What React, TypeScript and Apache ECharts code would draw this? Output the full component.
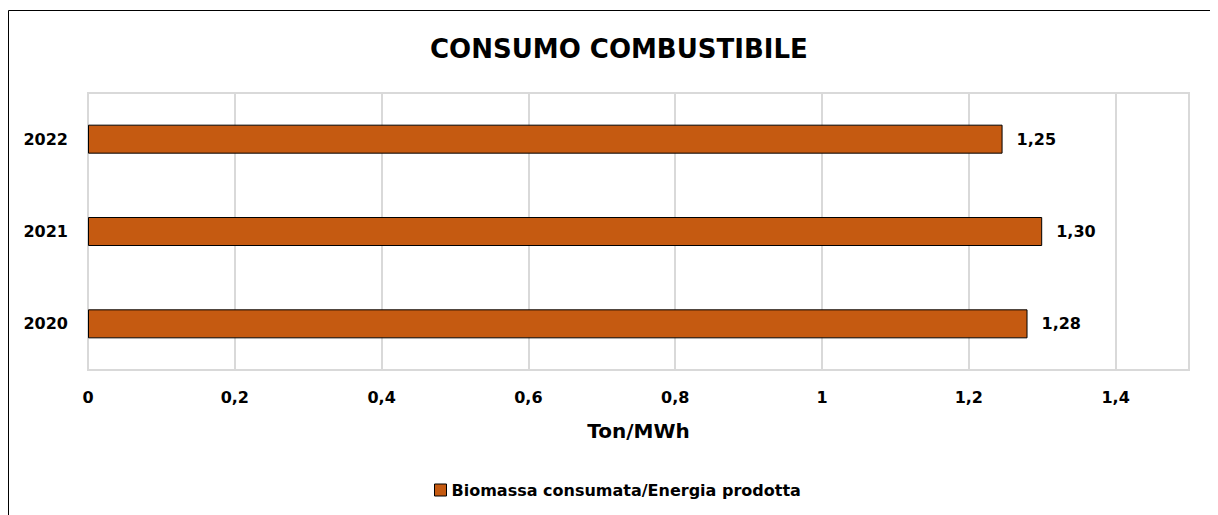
import React, { useEffect, useRef } from "react";
import * as echarts from "echarts";

const categories = ["2020", "2021", "2022"];
const values = [1.28, 1.3, 1.246];
const seriesName = "Biomassa consumata/Energia prodotta";
const titleText = "CONSUMO COMBUSTIBILE";
const axisName = "Ton/MWh";

const FONT = "'DejaVu Sans', sans-serif";
const fmt = (v: number) => String(v).replace(".", ",");

export default function App() {
  const ref = useRef<HTMLDivElement>(null);
  useEffect(() => {
    document.body.style.overflow = "hidden";
    const chart = echarts.init(ref.current!, null, { renderer: "svg" });
    chart.setOption({
      animation: false,
      textStyle: { fontFamily: FONT },
      title: {
        text: titleText,
        left: 417,
        top: 23,
        textStyle: { fontFamily: FONT, fontSize: 26, fontWeight: "bold", color: "#000" },
      },
      graphic: [
        {
          type: "rect",
          shape: { x: 0.5, y: 2.5, width: 1400, height: 700 },
          style: { fill: "none", stroke: "#000", lineWidth: 1 },
          silent: true,
        },
      ],
      legend: {
        bottom: 12,
        left: 421,
        itemWidth: 12,
        itemHeight: 12,
        icon: "rect",
        itemGap: 10,
        textStyle: { fontFamily: FONT, fontSize: 16, fontWeight: "bold", color: "#000" },
        data: [{ name: seriesName, itemStyle: { borderColor: "#000", borderWidth: 1 } }],
      },
      grid: {
        left: 80,
        right: 29,
        top: 85,
        bottom: 145,
        show: true,
        borderColor: "#d9d9d9",
        borderWidth: 2,
        containLabel: false,
      },
      xAxis: {
        type: "value",
        min: 0,
        max: 1.5,
        interval: 0.2,
        name: axisName,
        nameLocation: "middle",
        nameGap: 51,
        nameTextStyle: { fontFamily: FONT, fontSize: 20, fontWeight: "bold", color: "#000" },
        axisLine: { show: false },
        axisTick: { show: false },
        axisLabel: {
          margin: 19,
          fontFamily: FONT,
          fontSize: 16,
          fontWeight: "bold",
          color: "#000",
          formatter: (v: number) => (v > 1.45 ? "" : fmt(Math.round(v * 10) / 10)),
        },
        splitLine: { show: true, lineStyle: { color: "#d9d9d9", width: 2 } },
      },
      yAxis: {
        type: "category",
        data: categories,
        axisLine: { show: false },
        axisTick: { show: false },
        axisLabel: {
          margin: 20,
          fontFamily: FONT,
          fontSize: 16,
          fontWeight: "bold",
          color: "#000",
        },
        splitLine: { show: false },
      },
      series: [
        {
          name: seriesName,
          type: "bar",
          data: values,
          barWidth: 29,
          itemStyle: { color: "#C55A11", borderColor: "#000", borderWidth: 1 },
          label: {
            show: true,
            position: "right",
            distance: 14,
            fontFamily: FONT,
            fontSize: 16,
            fontWeight: "bold",
            color: "#000",
            formatter: (p: any) => p.value.toFixed(2).replace(".", ","),
          },
        },
      ],
    });
    return () => chart.dispose();
  }, []);
  return <div ref={ref} style={{ width: 1210, height: 507 }} />;
}
